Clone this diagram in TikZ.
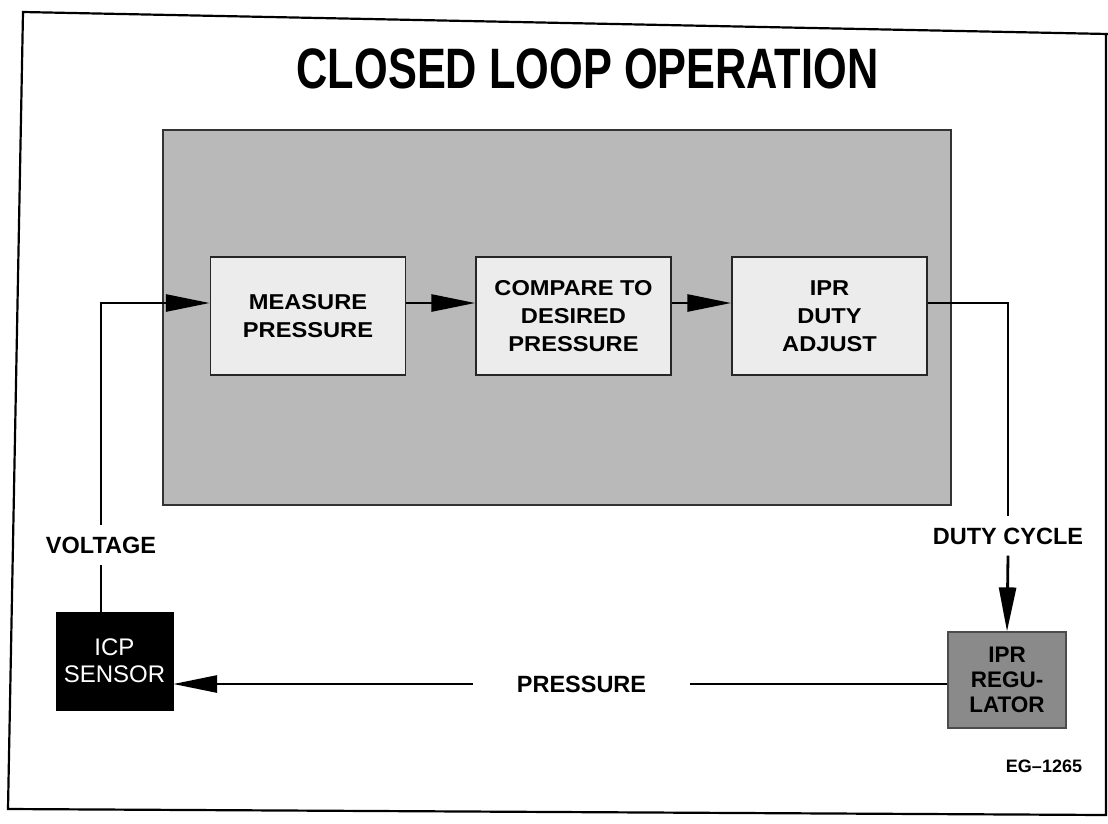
\documentclass[tikz,border=0pt]{standalone}
\usepackage{fontspec}
\setmainfont{Liberation Sans}
\newfontfamily\titlefont[FakeStretch=0.76]{Liberation Sans}
\newfontfamily\boxfont[FakeStretch=1.1]{Liberation Sans}
\usetikzlibrary{arrows.meta}
\definecolor{panelgray}{HTML}{B9B9B9}
\definecolor{boxgray}{HTML}{ECECEC}
\definecolor{iprgray}{HTML}{8A8A8A}
\begin{document}
\begin{tikzpicture}[x=1pt,y=-1pt,
  conn/.style={line width=2.8pt,draw=black},
  arr/.style={conn,-{Triangle[length=44pt,width=17pt]}},
  stepbox/.style={draw=black!85,line width=1.5pt,fill=boxgray,minimum width=195pt,minimum height=118pt,inner sep=0pt,align=center,font=\boxfont\bfseries\fontsize{21.5}{28}\selectfont},
  lbl/.style={font=\bfseries\fontsize{23.5}{28}\selectfont,inner sep=0pt,align=center},
  panelbox/.style={draw=black!80,line width=1.5pt,fill=panelgray,minimum width=788pt,minimum height=375pt,inner sep=0pt},
]
\fill[white] (0,0) rectangle (1108,823);
\useasboundingbox (0,0) rectangle (1108,823);
% frame
\draw[line width=2.2pt] (1108,34) -- (23,12) -- (8,809) -- (1106,815) -- (1106,34);
% title
\node[anchor=base,inner sep=0pt,font=\titlefont\bfseries\fontsize{57}{60}\selectfont] (title) at (587.5,88) {CLOSED LOOP OPERATION};
% panel
\node[panelbox] (panel) at (557,317.5) {};
% process boxes
\node[stepbox] (m) at (308,316) {MEASURE\\PRESSURE};
\node[stepbox] (c) at (573.5,316) {COMPARE TO\\DESIRED\\PRESSURE};
\node[stepbox] (d) at (829.5,316) {IPR\\DUTY\\ADJUST};
% sensor and regulator
\node[fill=black,draw=black,minimum width=117pt,minimum height=98pt,inner sep=0pt,align=center,text=white,font=\fontsize{24}{27}\selectfont] (icp) at (114.5,661) {ICP\\SENSOR};
\node[fill=iprgray,draw=black!70,line width=1.2pt,minimum width=118pt,minimum height=96pt,inner sep=0pt,align=center,font=\bfseries\fontsize{22.5}{25}\selectfont] (ipr) at (1007,680) {IPR\\REGU-\\LATOR};
% labels
\node[lbl,minimum height=40pt] (volt) at (101,545) {VOLTAGE};
\node[lbl,minimum height=39pt] (duty) at (1008,536) {DUTY CYCLE};
\node[lbl,minimum width=217pt] (pres) at (581.5,684) {PRESSURE};
\node[anchor=base,inner sep=0pt,font=\bfseries\fontsize{18}{20}\selectfont] (eg) at (1044,772) {EG--1265};
% connectors
\coordinate (ay) at (0,303);
\draw[conn] (volt.south) -- (volt.south |- icp.north);
\draw[arr] (volt.north) |- (m.west |- ay);
\draw[arr] (m.east |- ay) -- (c.west |- ay);
\draw[arr] (c.east |- ay) -- (d.west |- ay);
\draw[conn] (d.east |- ay) -| (duty.north);
\draw[arr] (duty.south) -- (ipr.north);
\draw[conn] (ipr.west |- pres) -- (pres.east);
\draw[arr] (pres.west) -- (pres.west -| icp.east);
\end{tikzpicture}
\end{document}
